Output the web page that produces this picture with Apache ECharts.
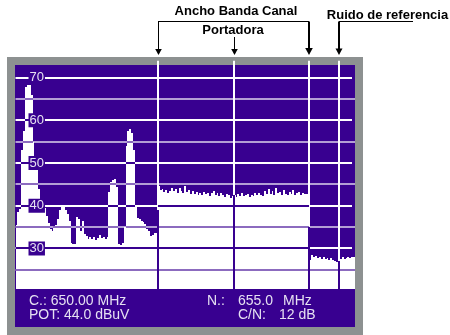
<!DOCTYPE html>
<html><head><meta charset="utf-8">
<script src="https://cdn.jsdelivr.net/npm/echarts@6/dist/echarts.min.js"></script>
<style>html,body{margin:0;padding:0;background:#fff;}#c{width:450px;height:335px;}</style>
</head><body><div id="c"></div>
<script>
// ---- data ----
const FREQ_START = 638.5;   // MHz, left edge of screen
const FREQ_END = 656.4;     // MHz, right edge of screen
const FREQ_STEP = 0.1;      // MHz per spectrum sample
const Y_MIN = 20.5, Y_MAX = 73; // dBuV
// spectrum levels (dBuV), left of channel 638.5-646 MHz
const leftLevels = [35.5, 38.5, 39.2, 53, 57.5, 67.8, 68.3, 68.3, 66, 55,
  50, 48.4, 44, 41, 40.5, 39.5, 37.5, 36, 34.5, 34,
  35.3, 35.5, 37, 39, 39.6, 39.6, 39, 38, 36.5, 31.3,
  31, 31, 37.4, 36.8, 34, 36.5, 33.5, 33,
  32.3, 32.8, 32.2, 32.6, 32.0, 32.5, 33.2, 32.4, 32.8, 32.2, 32.6,
  43.3, 45.5, 46, 46.2, 44.5, 31, 30.8, 31.2, 35, 54,
  57.5, 58, 57, 53, 40, 37.2, 37, 36.5, 36.3, 35.8,
  34.5, 34, 33, 33.2, 33.6, 33.6];
// channel 646-654 MHz
const channelLevels = [44.6, 43.8, 44.0, 43.2, 43.6, 42.9, 43.5, 44.1, 43.4, 43.9,
  43.1, 44.2, 43.5, 43.0, 44.6, 43.3, 43.8, 42.8, 43.4, 42.7,
  43.2, 42.6, 43.0, 42.4, 43.3, 42.8, 43.1, 42.3, 42.9, 43.4,
  42.5, 42.9, 42.2, 43.0, 42.6, 42.1, 42.8, 42.4, 41.9, 42.2,
  42.6, 42.0, 42.7, 42.3, 42.9, 42.2, 42.5, 42.8, 42.1, 42.6,
  42.3, 42.9, 42.4, 43.1, 42.6, 42.2, 43.4, 42.7, 44.0, 42.8,
  43.5, 42.6, 44.1, 42.9, 43.2, 42.5, 43.7, 42.8, 42.4, 43.3,
  42.7, 43.6, 42.5, 42.9, 43.2, 42.6, 43.0, 42.7, 42.8, 43.0];
// noise floor 654-656.4 MHz
const noiseLevels = [27.2, 28.4, 28.0, 28.3, 27.8, 28.1, 27.6, 27.9, 27.5, 27.8,
  27.4, 27.7, 27.2, 27.0, 26.9, 27.3, 27.6, 27.9, 27.5, 27.8,
  28.0, 27.7, 27.9, 28.1];
const markerFreqs = [646, 650, 654, 655.55]; // channel low, carrier, channel high, noise ref
const majorLevels = [30, 40, 50, 60, 70];
const minorLevels = [25, 35, 45, 55, 65];
const tickLabels = [30, 40, 50, 60, 70];
const headerLabels = ['Ancho Banda Canal', 'Portadora', 'Ruido de referencia'];
const panelLeft = ['C.: 650.00 MHz', 'POT: 44.0 dBuV'];
const panelRight = ['N.:', '655.0', 'MHz', 'C/N:', '12 dB'];

// ---- styling ----
const PURPLE = '#380090';
const GRAY = '#8d9191';
const TXT = '#e6e0f2';

const levels = leftLevels.concat(channelLevels, noiseLevels);
const spectrum = levels.map((v, i) => [+(FREQ_START + FREQ_STEP * (i + 0.5)).toFixed(3), v]);
function levelAt(f) {
  const i = Math.round((f - FREQ_START) / FREQ_STEP);
  const a = levels[Math.max(0, i - 1)], b = levels[Math.min(levels.length - 1, i)];
  return (a + b) / 2;
}
const markerData = markerFreqs.map(f => [f, levelAt(f)]);

const chart = echarts.init(document.getElementById('c'));
const option = {
  animation: false,
  grid: { left: 15.5, right: 95, top: 64.7, bottom: 45.9 },
  xAxis: { type: 'value', min: FREQ_START, max: FREQ_END, show: false },
  yAxis: {
    type: 'value', min: Y_MIN, max: Y_MAX, z: 10,
    axisLine: { show: false }, axisTick: { show: false }, splitLine: { show: false },
    axisLabel: {
      inside: true, margin: 13, customValues: tickLabels, color: TXT,
      fontSize: 13, fontFamily: 'Liberation Sans', backgroundColor: PURPLE, padding: [1, 1, 0, 1]
    }
  },
  graphic: [
    { type: 'rect', id: 'frame', z: -10, shape: { x: 7, y: 57, width: 356, height: 278 }, style: { fill: GRAY } },
    { type: 'rect', id: 'screen', z: -9, shape: { x: 15, y: 65, width: 340, height: 262 }, style: { fill: PURPLE } }
  ],
  series: [
    { // background grid + marker lines
      type: 'custom', z: 1, silent: true,
      data: [[FREQ_START, Y_MIN]],
      renderItem(params, api) {
        const xl = api.coord([FREQ_START, Y_MIN])[0];
        const xr = api.coord([FREQ_END, Y_MIN])[0];
        const yb = api.coord([FREQ_START, Y_MIN])[1];
        const yt = api.coord([FREQ_START, Y_MAX])[1];
        const ch = [];
        minorLevels.forEach(L => {
          const y = Math.round(api.coord([FREQ_START, L])[1]);
          ch.push({ type: 'rect', shape: { x: xl, y: y - 1, width: xr - xl, height: 2 }, style: { fill: 'rgba(255,255,255,0.62)' } });
        });
        majorLevels.forEach(L => {
          const y = Math.round(api.coord([FREQ_START, L])[1]);
          ch.push({ type: 'rect', shape: { x: xl, y: y - 1, width: xr - 3 - xl, height: 2 }, style: { fill: '#ffffff' } });
        });
        markerFreqs.forEach(f => {
          const x = Math.round(api.coord([f, Y_MIN])[0]);
          ch.push({ type: 'rect', shape: { x: x - 1, y: yt - 4, width: 2, height: yb - yt + 4 }, style: { fill: '#ffffff' } });
        });
        return { type: 'group', children: ch };
      }
    },
    { // spectrum fill with inverted grid lines
      type: 'custom', z: 2, silent: true,
      data: spectrum,
      renderItem(params, api) {
        const f = api.value(0), v = api.value(1);
        const x0 = Math.round(api.coord([f - FREQ_STEP / 2, Y_MIN])[0]);
        const x1 = Math.round(api.coord([f + FREQ_STEP / 2, Y_MIN])[0]);
        const yTop = Math.round(api.coord([f, v])[1]);
        const yBot = api.coord([f, Y_MIN])[1];
        const ch = [{ type: 'rect', shape: { x: x0, y: yTop, width: x1 - x0, height: yBot - yTop }, style: { fill: '#ffffff' } }];
        minorLevels.forEach(L => {
          if (L < v) {
            const y = Math.round(api.coord([f, L])[1]);
            ch.push({ type: 'rect', shape: { x: x0, y: y - 1, width: x1 - x0, height: 2 }, style: { fill: 'rgba(56,0,144,0.58)' } });
          }
        });
        majorLevels.forEach(L => {
          if (L < v) {
            const y = Math.round(api.coord([f, L])[1]);
            ch.push({ type: 'rect', shape: { x: x0, y: y - 1, width: x1 - x0, height: 2 }, style: { fill: PURPLE } });
          }
        });
        return { type: 'group', children: ch };
      }
    },
    { // marker lines inverted below the trace
      type: 'custom', z: 3, silent: true,
      data: markerData,
      renderItem(params, api) {
        const f = api.value(0), v = api.value(1);
        const x = Math.round(api.coord([f, v])[0]);
        const yTop = Math.round(api.coord([f, v])[1]);
        const yBot = api.coord([f, Y_MIN])[1];
        return { type: 'rect', shape: { x: x - 1, y: yTop, width: 2, height: yBot - yTop }, style: { fill: PURPLE } };
      }
    }
  ]
};
chart.setOption(option);

// ---- annotations, positioned from the x axis ----
const px = f => Math.round(chart.convertToPixel({ xAxisIndex: 0 }, f));
const xL = px(markerFreqs[0]), xC = px(markerFreqs[1]), xR = px(markerFreqs[2]), xN = px(markerFreqs[3]);
const arrow = (id, x, w, h) => ({ type: 'polygon', id, z: 20, shape: { points: [[x - w, 55 - h], [x + w, 55 - h], [x, 55]] }, style: { fill: '#000' } });
const vline = (id, x, y1, lw) => ({ type: 'line', id, z: 20, shape: { x1: x, y1: y1, x2: x, y2: 50 }, style: { stroke: '#000', lineWidth: lw } });
const hdr = (id, text, x, y) => ({ type: 'text', id, z: 20, style: { text, x, y, fill: '#000', fontSize: 13, fontWeight: 'bold', fontFamily: 'Liberation Sans', align: 'center', verticalAlign: 'middle' } });
const ptxt = (id, text, x, y) => ({ type: 'text', id, z: 20, style: { text, x, y, fill: TXT, fontSize: 14, fontFamily: 'Liberation Sans', align: 'left', verticalAlign: 'middle' } });
chart.setOption({
  graphic: [
    { type: 'line', id: 'bw', z: 20, shape: { x1: xL, y1: 21.5, x2: xR, y2: 21.5 }, style: { stroke: '#000', lineWidth: 1 } },
    vline('bwL', xL + 0.5, 21.5, 1), vline('bwR', xR, 21.5, 2), vline('car', xC + 0.5, 37, 1), vline('nr', xN, 21.5, 2),
    { type: 'line', id: 'nrh', z: 20, shape: { x1: xN, y1: 21.5, x2: 413, y2: 21.5 }, style: { stroke: '#000', lineWidth: 1 } },
    arrow('aL', xL + 0.5, 3.3, 6), arrow('aC', xC + 0.5, 3.3, 6), arrow('aR', xR, 3.8, 7), arrow('aN', xN, 3.5, 6.5),
    hdr('h1', headerLabels[0], 236, 11.7), hdr('h2', headerLabels[1], xC - 1, 30.8), hdr('h3', headerLabels[2], 387.5, 15),
    ptxt('p1', panelLeft[0], 29, 301), ptxt('p2', panelLeft[1], 29, 315),
    ptxt('p3', panelRight[0], 207, 301), ptxt('p4', panelRight[1], 238, 301), ptxt('p5', panelRight[2], 283, 301),
    ptxt('p6', panelRight[3], 238, 315), ptxt('p7', panelRight[4], 279, 315)
  ]
});
</script></body></html>
